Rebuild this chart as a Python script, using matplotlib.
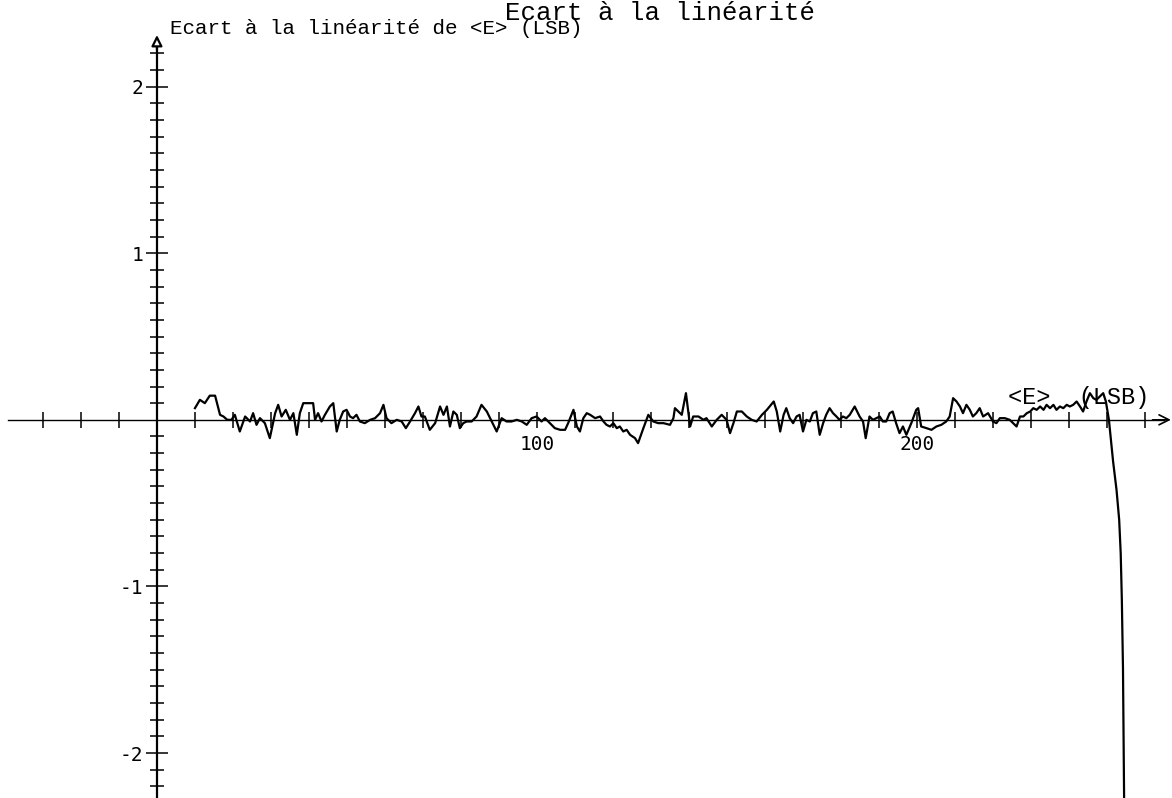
import matplotlib.pyplot as plt
from matplotlib.ticker import FixedLocator, NullFormatter

plt.rcParams['axes.unicode_minus'] = False

# mean code <E> (LSB) and its deviation from the linear fit (LSB)
e_mean = [
    10.0, 11.3, 12.6, 13.9, 15.3, 16.6, 17.5, 18.5, 19.6, 20.5, 21.8, 23.2, 24.5,
    25.3, 26.2, 27.1, 28.4, 29.7, 31.1, 31.9, 32.8, 33.9, 35.0, 35.9, 36.8, 37.6,
    38.5, 41.1, 41.6, 42.4, 43.3, 44.2, 45.5, 46.4, 47.3, 48.1, 49.0, 49.9, 50.8,
    51.6, 52.5, 53.4, 54.7, 56.1, 57.4, 58.7, 59.6, 60.4, 61.7, 63.1, 64.4, 65.5,
    66.6, 67.9, 68.8, 69.6, 70.5, 71.8, 73.2, 74.5, 75.4, 76.3, 77.1, 78.0, 78.9,
    79.7, 80.6, 81.5, 82.8, 84.1, 85.4, 86.8, 88.1, 89.4, 90.7, 92.0, 93.3, 94.7,
    96.0, 97.3, 98.6, 99.9, 101.2, 102.1, 103.4, 104.7, 106.1, 107.4, 108.2, 109.6,
    110.5, 111.3, 112.2, 113.1, 114.0, 115.3, 116.6, 117.5, 118.3, 119.2, 120.1,
    121.0, 121.8, 122.7, 123.6, 124.5, 125.8, 126.6, 128.0, 129.3, 130.6, 131.9,
    133.3, 135.0, 135.9, 136.3, 137.2, 138.1, 139.2, 140.3, 141.1, 142.5, 143.8,
    144.6, 146.0, 147.3, 148.6, 149.9, 150.8, 151.7, 152.6, 153.9, 155.2, 156.5,
    157.8, 159.2, 160.5, 162.3, 163.1, 164.0, 164.9, 165.6, 166.5, 167.4, 168.3,
    169.1, 170.0, 170.9, 171.8, 172.6, 173.5, 174.4, 175.3, 176.1, 177.0, 177.9,
    178.8, 179.6, 180.5, 181.4, 182.3, 183.6, 184.9, 185.8, 186.5, 187.5, 188.4,
    189.3, 190.2, 191.0, 191.9, 192.8, 193.6, 194.5, 195.4, 196.3, 197.2, 198.5,
    199.8, 200.3, 201.1, 202.5, 203.8, 205.1, 206.4, 207.7, 208.6, 209.5, 210.4,
    211.3, 212.1, 213.0, 213.9, 214.7, 215.6, 216.5, 217.4, 218.7, 220.0, 220.9,
    221.8, 223.1, 224.4, 226.2, 227.1, 228.0, 228.9, 229.8, 230.6, 231.5, 232.4,
    233.3, 234.1, 235.0, 235.9, 236.7, 237.6, 238.5, 239.4, 240.2, 241.1, 242.0,
    242.9, 243.7, 244.6, 245.5, 246.4, 247.2, 248.1, 249.0, 249.7, 250.5, 251.6,
    252.5, 253.2, 253.6, 253.9, 254.2, 254.5, 254.7,
]
ecart = [
    0.07, 0.12, 0.10, 0.145, 0.145, 0.03, 0.02, 0.0, 0.0, 0.03, -0.07, 0.02, -0.01,
    0.04, -0.03, 0.01, -0.02, -0.11, 0.04, 0.09, 0.02, 0.06, 0.0, 0.04, -0.09, 0.04,
    0.10, 0.10, 0.0, 0.04, -0.01, 0.03, 0.08, 0.10, -0.07, 0.0, 0.05, 0.06, 0.02,
    0.01, 0.03, -0.01, -0.02, 0.0, 0.01, 0.04, 0.09, 0.01, -0.02, 0.0, -0.01, -0.05,
    -0.01, 0.04, 0.08, 0.02, 0.02, -0.06, -0.02, 0.08, 0.03, 0.08, -0.04, 0.05, 0.03,
    -0.05, -0.02, -0.01, -0.01, 0.02, 0.09, 0.05, -0.01, -0.07, 0.01, -0.01, -0.01, 0.0,
    -0.01, -0.03, 0.01, 0.02, -0.01, 0.01, -0.02, -0.05, -0.06, -0.06, -0.02, 0.06,
    -0.04, -0.07, 0.01, 0.04, 0.03, 0.01, 0.02, -0.01, -0.03, -0.04, -0.02,
    -0.05, -0.04, -0.07, -0.06, -0.09, -0.11, -0.14, -0.05, 0.03, -0.01, -0.02,
    -0.02, -0.03, 0.01, 0.07, 0.05, 0.03, 0.16, -0.04, 0.02, 0.02, 0.0,
    0.01, -0.04, 0.0, 0.03, 0.0, -0.08, -0.02, 0.05, 0.05, 0.02, 0.0,
    -0.01, 0.03, 0.06, 0.11, 0.05, -0.07, 0.03, 0.07, 0.01, -0.02, 0.02,
    0.03, -0.07, 0.0, -0.01, 0.04, 0.05, -0.09, -0.02, 0.03, 0.07, 0.04,
    0.02, 0.0, 0.02, 0.01, 0.03, 0.08, 0.02, -0.01, -0.11, 0.02, 0.0,
    0.01, 0.02, -0.01, -0.01, 0.04, 0.05, -0.02, -0.08, -0.04, -0.09, -0.02,
    0.06, 0.07, -0.04, -0.05, -0.06, -0.04, -0.03, -0.01, 0.02, 0.13, 0.11,
    0.08, 0.04, 0.09, 0.06, 0.02, 0.04, 0.07, 0.02, 0.04, -0.01, -0.02,
    0.01, 0.01, 0.0, -0.04, 0.02, 0.02, 0.04, 0.05, 0.07, 0.06, 0.08,
    0.06, 0.09, 0.07, 0.09, 0.06, 0.08, 0.07, 0.09, 0.08, 0.09, 0.11,
    0.08, 0.05, 0.11, 0.16, 0.13, 0.12, 0.14, 0.16, 0.11, 0.0, -0.25,
    -0.42, -0.6, -0.8, -1.08, -1.49, -2.28, -2.6,
]

x_labelled = [100, 200]
y_labelled = [-2, -1, 1, 2]

mono = 'Liberation Mono'

fig = plt.figure(figsize=(11.72, 7.98), dpi=100)
ax = fig.add_axes([0, 0, 1, 1])
ax.set_xlim(-41.3, 267.1)
ax.set_ylim(-2.27, 2.52)

ax.plot(e_mean, ecart, color='black', lw=1.6, zorder=3)

# axes crossing at the origin
for side in ('top', 'right'):
    ax.spines[side].set_visible(False)
ax.spines['left'].set_position(('data', 0))
ax.spines['bottom'].set_position(('data', 0))
ax.spines['left'].set_bounds(-2.27, 2.28)
ax.spines['bottom'].set_bounds(-39.2, 265)
ax.spines['left'].set_linewidth(1.6)
ax.spines['bottom'].set_linewidth(1.0)

ax.annotate('', xy=(266.8, 0), xytext=(262, 0),
            arrowprops=dict(arrowstyle='->', color='black', lw=1.2,
                            mutation_scale=18, shrinkA=0, shrinkB=0))
ax.annotate('', xy=(0, 2.31), xytext=(0, 2.22),
            arrowprops=dict(arrowstyle='-|>', fc='white', ec='black', lw=1.6,
                            mutation_scale=16, shrinkA=0, shrinkB=0))

x_minor = [v for v in range(-30, 270, 10) if v not in (0, 100, 200)]
y_minor = [i / 10 for i in range(-22, 23) if i % 10 != 0]

ax.xaxis.set_major_locator(FixedLocator(x_labelled))
ax.xaxis.set_minor_locator(FixedLocator(x_minor))
ax.yaxis.set_major_locator(FixedLocator(y_labelled))
ax.yaxis.set_minor_locator(FixedLocator(y_minor))
ax.xaxis.set_minor_formatter(NullFormatter())
ax.yaxis.set_minor_formatter(NullFormatter())

ax.tick_params(axis='x', which='both', direction='inout', length=12, width=1.1, pad=5)
ax.tick_params(axis='y', which='major', direction='inout', length=16, width=1.1, pad=2)
ax.tick_params(axis='y', which='minor', direction='inout', length=10, width=1.1)
for lab in ax.get_xticklabels() + ax.get_yticklabels():
    lab.set_fontfamily('DejaVu Sans Mono')
    lab.set_fontsize(14)

ax.text(3.4, 2.318, 'Ecart à la linéarité de <E> (LSB)', family=mono,
        fontsize=15, ha='left', va='baseline')
ax.text(224, 0.096, '<E>  (LSB)', family=mono, fontsize=17,
        ha='left', va='baseline')
fig.text(0.563, 1 - 20 / 798, 'Ecart à la linéarité', family=mono, fontsize=18.5,
         ha='center', va='baseline')

fig.savefig('out.png', dpi=100)
